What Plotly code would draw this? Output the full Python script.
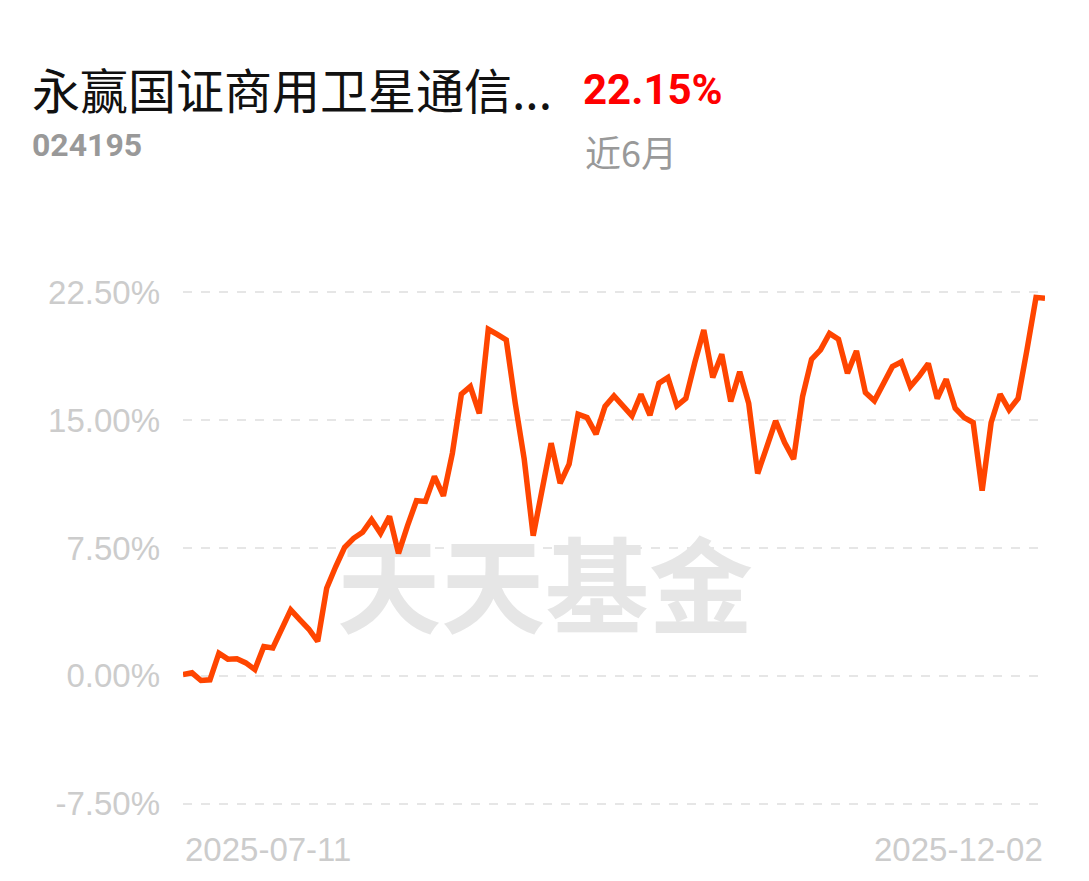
import plotly.graph_objects as go

# ---- data ----
values = [0.08, 0.18, -0.27, -0.23, 1.33, 0.98, 1.0, 0.76, 0.37, 1.72,
          1.64, 2.8, 3.87, 3.3, 2.75, 2.03, 5.14, 6.4, 7.54, 8.07,
          8.42, 9.16, 8.36, 9.36, 7.19, 8.8, 10.27, 10.23, 11.7, 10.56,
          13.06, 16.52, 16.97, 15.39, 20.33, 20.03, 19.7, 16.0, 12.71, 8.22,
          10.9, 13.65, 11.3, 12.42, 15.35, 15.15, 14.18, 15.8, 16.42, 15.78,
          15.25, 16.52, 15.29, 17.16, 17.5, 15.84, 16.27, 18.38, 20.29, 17.5,
          18.86, 16.09, 17.83, 15.99, 11.87, 13.4, 14.96, 13.69, 12.71, 16.38,
          18.57, 19.12, 20.09, 19.74, 17.75, 19.06, 16.62, 16.13, 17.2, 18.14,
          18.41, 16.97, 17.59, 18.32, 16.27, 17.4, 15.7, 15.15, 14.86, 10.86,
          14.86, 16.52, 15.6, 16.27, 19.15, 22.2, 22.15]
x_index = list(range(len(values)))
x_labels = ["2025-07-11", "2025-12-02"]
y_ticks = [-7.5, 0.0, 7.5, 15.0, 22.5]
y_ticktext = ["-7.50%", "0.00%", "7.50%", "15.00%", "22.50%"]
fund_name = "永赢国证商用卫星通信..."
fund_code = "024195"
period_return = "22.15%"
period_label = "近6月"
watermark = "天天基金"

OFF = 8  # page body margin
W, H = 1089 - OFF, 881 - OFF
YMIN, YMAX = -7.75, 22.75
unit = 512 / 30.0
top_pix = 292 - (YMAX - 22.5) * unit
bot_pix = 804 + (-7.5 - YMIN) * unit
L = 183 - OFF
R = 1089 - 1045
T = top_pix - OFF
B = 881 - bot_pix
pw, ph = W - L - R, H - T - B


def px(x):
    return (x - OFF - L) / pw


def py(y):
    return (H - B - (y - OFF)) / ph


n = len(values)
fig = go.Figure()
# watermark behind the line
fig.add_trace(go.Scatter(
    x=[(545 - 183) / 862 * (n - 1)], y=[(677 - 601) / unit],
    mode="text", text=[watermark], textposition="middle center",
    textfont=dict(family="Noto Sans CJK SC", size=104, color="#e6e6e6", weight="bold"),
    hoverinfo="skip", cliponaxis=False))
fig.add_trace(go.Scatter(
    x=x_index, y=values, mode="lines",
    line=dict(color="#ff4500", width=5.5),
    cliponaxis=False, hoverinfo="skip"))

fig.update_layout(
    width=W, height=H,
    margin=dict(l=L, r=R, t=T, b=B, pad=0),
    paper_bgcolor="white", plot_bgcolor="white",
    showlegend=False,
    xaxis=dict(range=[0, n - 1], showgrid=False, zeroline=False,
               showticklabels=False, showline=False),
    yaxis=dict(range=[YMIN, YMAX], tickvals=y_ticks, ticktext=y_ticktext,
               showgrid=True, gridcolor="#e6e6e6", griddash="dash", gridwidth=2,
               zeroline=False, showline=False, ticks="",
               ticklabelstandoff=22,
               tickfont=dict(family="Liberation Sans, Arial", size=33, color="#cccccc")),
)

annos = [
    dict(text=fund_name, x=px(30), y=py(88), xanchor="left", yanchor="middle",
         font=dict(family="Noto Sans CJK SC", size=48, color="#111111")),
    dict(text=period_return, x=px(581), y=py(89), xanchor="left", yanchor="middle",
         font=dict(family="Roboto, Noto Sans", size=42, color="#ff0000", weight="bold")),
    dict(text=fund_code, x=px(30), y=py(145), xanchor="left", yanchor="middle",
         font=dict(family="Roboto, Noto Sans", size=32, color="#999999", weight="bold")),
    dict(text=period_label, x=px(583), y=py(151), xanchor="left", yanchor="middle",
         font=dict(family="Noto Sans CJK SC", size=36, color="#999999")),
    dict(text=x_labels[0], x=0, y=py(850), xanchor="left", yanchor="middle",
         font=dict(family="Liberation Sans, Arial", size=33, color="#cccccc")),
    dict(text=x_labels[1], x=1, y=py(850), xanchor="right", yanchor="middle",
         font=dict(family="Liberation Sans, Arial", size=33, color="#cccccc")),
]
for a in annos:
    fig.add_annotation(xref="paper", yref="paper", showarrow=False, **a)

fig.write_html("out.html")
